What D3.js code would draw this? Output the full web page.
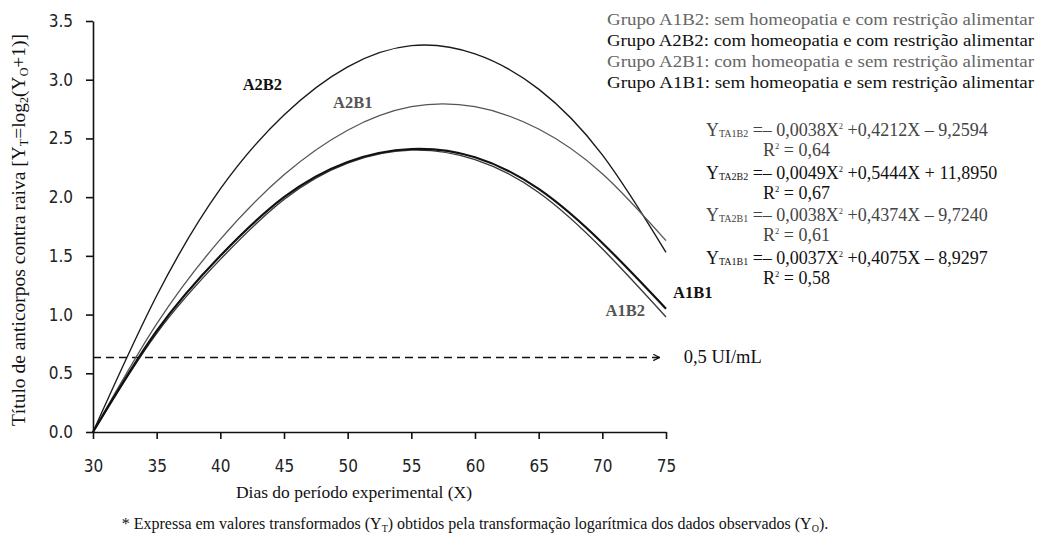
<!DOCTYPE html>
<html>
<head>
<meta charset="utf-8">
<script src="https://cdn.jsdelivr.net/npm/d3@7/dist/d3.min.js"></script>
<style>
  body { margin: 0; background: #fff; }
  svg { display: block; }
  .axis text { font-family: "DejaVu Sans Condensed", "DejaVu Sans", sans-serif; font-size: 17px; fill: #222; }
  .axis path, .axis line { stroke: #111; stroke-width: 1.6; }
</style>
</head>
<body>
<div id="chart"></div>
<script>
  // dias do periodo experimental
  var days = [30, 35, 40, 45, 50, 55, 60, 65, 70, 75];

  // valores (titulo transformado)
  var a2b2 = [0, 1.16, 2.07, 2.70, 3.11, 3.29, 3.22, 2.92, 2.36, 1.53];
  var a2b1 = [0, 0.92, 1.64, 2.19, 2.57, 2.77, 2.77, 2.58, 2.20, 1.63];
  var a1b1 = [0, 0.86, 1.50, 2.00, 2.30, 2.41, 2.34, 2.07, 1.61, 1.05];
  var a1b2 = [0, 0.84, 1.47, 1.98, 2.29, 2.40, 2.32, 2.04, 1.56, 0.98];

  var xTicks = [30, 35, 40, 45, 50, 55, 60, 65, 70, 75];
  var yTicks = [0, 0.5, 1, 1.5, 2, 2.5, 3, 3.5];
  var limiar = 0.635; // linha tracejada 0,5 UI/mL

  var legendLines = [
    { g: "Grupo A1B2", t: ": sem homeopatia e com restrição alimentar", c: "#666" },
    { g: "Grupo A2B2", t: ": com homeopatia e com restrição alimentar", c: "#111" },
    { g: "Grupo A2B1", t: ": com homeopatia e sem restrição alimentar", c: "#666" },
    { g: "Grupo A1B1", t: ": sem homeopatia e sem restrição alimentar", c: "#111" }
  ];

  var equations = [
    { sub: "TA1B2", a: " =– 0,0038X", b: " +0,4212X – 9,2594", r2: "0,64", c: "#444" },
    { sub: "TA2B2", a: " =– 0,0049X", b: " +0,5444X + 11,8950", r2: "0,67", c: "#111" },
    { sub: "TA2B1", a: " =– 0,0038X", b: " +0,4374X – 9,7240", r2: "0,61", c: "#444" },
    { sub: "TA1B1", a: " =– 0,0037X", b: " +0,4075X – 8,9297", r2: "0,58", c: "#111" }
  ];

  var series = [
    { name: "A2B2", values: a2b2, color: "#1a1a1a", w: 1.4 },
    { name: "A2B1", values: a2b1, color: "#555", w: 1.3 },
    { name: "A1B2", values: a1b2, color: "#3a3a3a", w: 1.4 },
    { name: "A1B1", values: a1b1, color: "#111", w: 2.2 }
  ];

  var SERIF = "'Liberation Serif', 'DejaVu Serif', serif";

  var W = 1054, H = 543;
  var margin = { top: 21, left: 93 },
      width = 573,
      height = 411;

  var svg = d3.select("#chart").append("svg")
      .attr("width", W).attr("height", H);

  var g = svg.append("g")
      .attr("transform", "translate(" + margin.left + "," + margin.top + ")");

  var x = d3.scaleLinear().domain([30, 75]).range([0, width]);
  var y = d3.scaleLinear().domain([0, 3.5]).range([height, 0]);

  // eixos
  g.append("g")
    .attr("class", "axis")
    .attr("transform", "translate(0," + height + ")")
    .call(d3.axisBottom(x).tickValues(xTicks).tickSize(7).tickSizeOuter(0).tickPadding(21)
      .tickFormat(d3.format("d")));

  g.append("g")
    .attr("class", "axis")
    .call(d3.axisLeft(y).tickValues(yTicks).tickSize(7).tickSizeOuter(0).tickPadding(13)
      .tickFormat(d3.format(".1f")));

  // linha tracejada com seta
  svg.append("defs").append("marker")
    .attr("id", "arrow")
    .attr("viewBox", "0 0 10 10")
    .attr("refX", 9).attr("refY", 5)
    .attr("markerWidth", 8).attr("markerHeight", 8)
    .attr("orient", "auto")
    .attr("markerUnits", "userSpaceOnUse")
    .append("path")
    .attr("d", "M1,1 L9,5 L1,9")
    .attr("fill", "none")
    .attr("stroke", "#111")
    .attr("stroke-width", 1.6);

  g.append("line")
    .attr("x1", 0).attr("x2", x(74.5))
    .attr("y1", y(limiar)).attr("y2", y(limiar))
    .attr("stroke", "#111")
    .attr("stroke-width", 1.6)
    .attr("stroke-dasharray", "8,5")
    .attr("marker-end", "url(#arrow)");

  g.append("text")
    .attr("x", x(74.5) + 24).attr("y", y(limiar) + 6)
    .style("font-family", SERIF)
    .attr("font-size", 18.5).attr("fill", "#111")
    .text("0,5 UI/mL");

  // curvas
  var line = d3.line()
    .x(function(d, i) { return x(days[i]); })
    .y(function(d) { return y(d); })
    .curve(d3.curveNatural);

  g.selectAll(".curve")
    .data(series)
    .enter().append("path")
    .attr("class", "curve")
    .attr("d", function(d) { return line(d.values); })
    .attr("fill", "none")
    .attr("stroke", function(d) { return d.color; })
    .attr("stroke-width", function(d) { return d.w; });

  // rotulos das curvas
  var curveLabels = [
    { t: "A2B2", x: 43.3, y: 2.91, c: "#111" },
    { t: "A2B1", x: 50.4, y: 2.76, c: "#555" },
    { t: "A1B1", x: 77.1, y: 1.14, c: "#111" },
    { t: "A1B2", x: 71.8, y: 0.99, c: "#555" }
  ];
  g.selectAll(".clabel")
    .data(curveLabels)
    .enter().append("text")
    .attr("x", function(d) { return x(d.x); })
    .attr("y", function(d) { return y(d.y); })
    .attr("text-anchor", "middle")
    .style("font-family", SERIF)
    .attr("font-size", 16.5)
    .attr("font-weight", "bold")
    .attr("fill", function(d) { return d.c; })
    .text(function(d) { return d.t; });

  // titulos dos eixos
  svg.append("text")
    .attr("x", 354).attr("y", 498)
    .attr("text-anchor", "middle")
    .style("font-family", SERIF)
    .attr("font-size", 17.5).attr("fill", "#111")
    .text("Dias do período experimental (X)");

  var yt = svg.append("text")
    .attr("transform", "translate(25,230) rotate(-90)")
    .attr("text-anchor", "middle")
    .style("font-family", SERIF)
    .attr("font-size", 19.5).attr("fill", "#111");
  yt.append("tspan").text("Título de anticorpos contra raiva [Y");
  yt.append("tspan").attr("font-size", 12).attr("dy", 3).text("T");
  yt.append("tspan").attr("dy", -3).text("=log");
  yt.append("tspan").attr("font-size", 12).attr("dy", 3).text("2");
  yt.append("tspan").attr("dy", -3).text("(Y");
  yt.append("tspan").attr("font-size", 12).attr("dy", 3).text("O");
  yt.append("tspan").attr("dy", -3).text("+1)]");

  // nota de rodape
  var ft = svg.append("text")
    .attr("x", 475).attr("y", 529)
    .attr("text-anchor", "middle")
    .style("font-family", SERIF)
    .attr("font-size", 16).attr("fill", "#111");
  ft.append("tspan").text("* Expressa em valores transformados (Y");
  ft.append("tspan").attr("font-size", 10).attr("dy", 3).text("T");
  ft.append("tspan").attr("dy", -3).text(") obtidos pela transformação logarítmica dos dados observados (Y");
  ft.append("tspan").attr("font-size", 10).attr("dy", 3).text("O");
  ft.append("tspan").attr("dy", -3).text(").");

  // legenda
  svg.selectAll(".leg")
    .data(legendLines)
    .enter().append("text")
    .attr("x", 607)
    .attr("y", function(d, i) { return 25 + i * 21; })
    .style("font-family", SERIF)
    .attr("font-size", 16)
    .attr("fill", function(d) { return d.c; })
    .attr("textLength", 427)
    .attr("lengthAdjust", "spacingAndGlyphs")
    .text(function(d) { return d.g + d.t; });

  // equacoes
  equations.forEach(function(e, i) {
    var base = 136 + i * 42.5;
    var t = svg.append("text")
      .attr("x", 706).attr("y", base)
      .style("font-family", SERIF)
      .attr("font-size", 18).attr("fill", e.c);
    t.append("tspan").text("Y");
    t.append("tspan").attr("font-size", 10).attr("dy", 1).text(e.sub);
    t.append("tspan").attr("dy", -1).text(e.a);
    t.append("tspan").attr("font-size", 8.5).attr("dy", -7).text("2");
    t.append("tspan").attr("dy", 7).text(e.b);

    var r = svg.append("text")
      .attr("x", 763).attr("y", base + 20)
      .style("font-family", SERIF)
      .attr("font-size", 18).attr("fill", e.c);
    r.append("tspan").text("R");
    r.append("tspan").attr("font-size", 8.5).attr("dy", -7).text("2");
    r.append("tspan").attr("dy", 7).text(" = " + e.r2);
  });
</script>
</body>
</html>
